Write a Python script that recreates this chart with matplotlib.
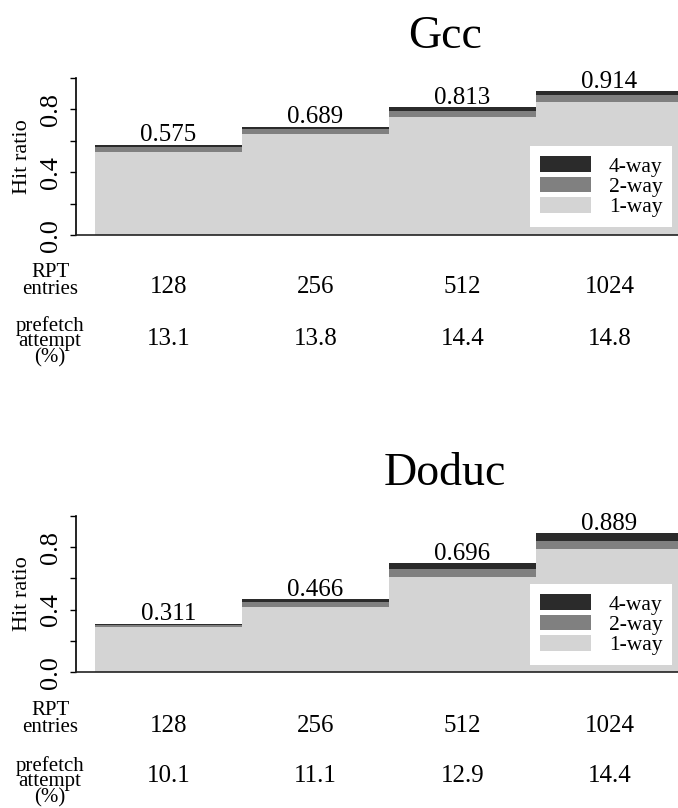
import matplotlib
matplotlib.use('Agg')
import matplotlib.pyplot as plt
import matplotlib.transforms as mtransforms
import numpy as np

plt.rcParams['font.family'] = ['Liberation Serif', 'DejaVu Serif']

# RPT sizes shared by both benchmarks
rpt_entries = ['128', '256', '512', '1024']

# Gcc: hit ratio split by associativity (1-way base, 2-way gain), total = 4-way
gcc_one_way = [0.532, 0.646, 0.750, 0.846]
gcc_two_way = [0.030, 0.030, 0.038, 0.047]
gcc_total = [0.575, 0.689, 0.813, 0.914]
gcc_prefetch = ['13.1', '13.8', '14.4', '14.8']

# Doduc
doduc_one_way = [0.291, 0.419, 0.611, 0.787]
doduc_two_way = [0.009, 0.030, 0.051, 0.051]
doduc_total = [0.311, 0.466, 0.696, 0.889]
doduc_prefetch = ['10.1', '11.1', '12.9', '14.4']

col_one = '#d4d4d4'
col_two = '#808080'
col_four = '#2b2b2b'

W, H = 678, 808
fig = plt.figure(figsize=(W / 100, H / 100), dpi=100)


def fx(px):
    return px / W


def fy(py):
    return 1 - py / H


def panel(top_px, bot_px, title, title_base, one, two, total, prefetch,
          num_base, pref_base, rpt_base, pref_lbl_base, legend_box):
    ax = fig.add_axes([fx(76), fy(bot_px), 1 - fx(76), (bot_px - top_px) / H])
    x = np.arange(len(rpt_entries))
    one = np.array(one)
    two = np.array(two)
    four = np.array(total) - one - two

    ax.bar(x, one, width=1.0, color=col_one, label='1-way', linewidth=0)
    ax.bar(x, two, width=1.0, bottom=one, color=col_two, label='2-way', linewidth=0)
    ax.bar(x, four, width=1.0, bottom=one + two, color=col_four, label='4-way', linewidth=0)

    for xi, t in zip(x, total):
        ax.annotate('%.3f' % t, (xi, t), xytext=(0, 2.5), textcoords='offset points',
                    ha='center', va='baseline', fontsize=18)

    ax.set_xlim(-0.5 - 19 / 147, -0.5 + (W - 95) / 147)
    ax.set_ylim(0, 1.0)
    ax.set_yticks([0, 0.2, 0.4, 0.6, 0.8, 1.0])
    ax.set_yticklabels(['0.0', '', '0.4', '', '0.8', ''], rotation=90, va='center',
                       fontsize=19)
    ax.tick_params(axis='y', length=4, width=1, pad=6)
    ax.set_xticks([])
    ax.set_ylabel('Hit ratio', fontsize=16, labelpad=6)
    for s in ['top', 'right']:
        ax.spines[s].set_visible(False)
    ax.spines['left'].set_linewidth(1.2)
    ax.spines['bottom'].set_linewidth(1.2)
    ax.spines['bottom'].set_color('#222222')

    h, l = ax.get_legend_handles_labels()
    leg = ax.legend(h[::-1], l[::-1], loc='lower right',
                    bbox_to_anchor=(fx(legend_box[0]), fy(legend_box[1])),
                    bbox_transform=fig.transFigure, borderaxespad=0,
                    fontsize=15.5, frameon=True, fancybox=False, framealpha=1,
                    edgecolor='white', labelspacing=0.0, handlelength=2.4,
                    handleheight=0.75, handletextpad=0.8, borderpad=0.45)
    leg.get_frame().set_linewidth(0)

    fig.text(fx(445), fy(title_base), title, ha='center', va='baseline', fontsize=33)

    tr = mtransforms.blended_transform_factory(ax.transData, fig.transFigure)
    for xi, n, p in zip(x, rpt_entries, prefetch):
        ax.text(xi, fy(num_base), n, transform=tr, ha='center', va='baseline', fontsize=18)
        ax.text(xi, fy(pref_base), p, transform=tr, ha='center', va='baseline', fontsize=18)

    # multi-line labels are placed by the baseline of their last line
    fig.text(fx(50), fy(rpt_base), 'RPT\nentries', ha='center', va='baseline',
             fontsize=15, linespacing=0.85)
    fig.text(fx(50), fy(pref_lbl_base), 'prefetch\nattempt\n(%)', ha='center',
             va='baseline', fontsize=15, linespacing=0.75)
    return ax


panel(77.8, 235.3, 'Gcc', 48, gcc_one_way, gcc_two_way, gcc_total, gcc_prefetch,
      293, 345, 294, 362, (672, 227))
panel(515.7, 672.3, 'Doduc', 485, doduc_one_way, doduc_two_way, doduc_total,
      doduc_prefetch, 732, 782, 732, 802, (672, 665))

fig.savefig('out.png', dpi=100)
